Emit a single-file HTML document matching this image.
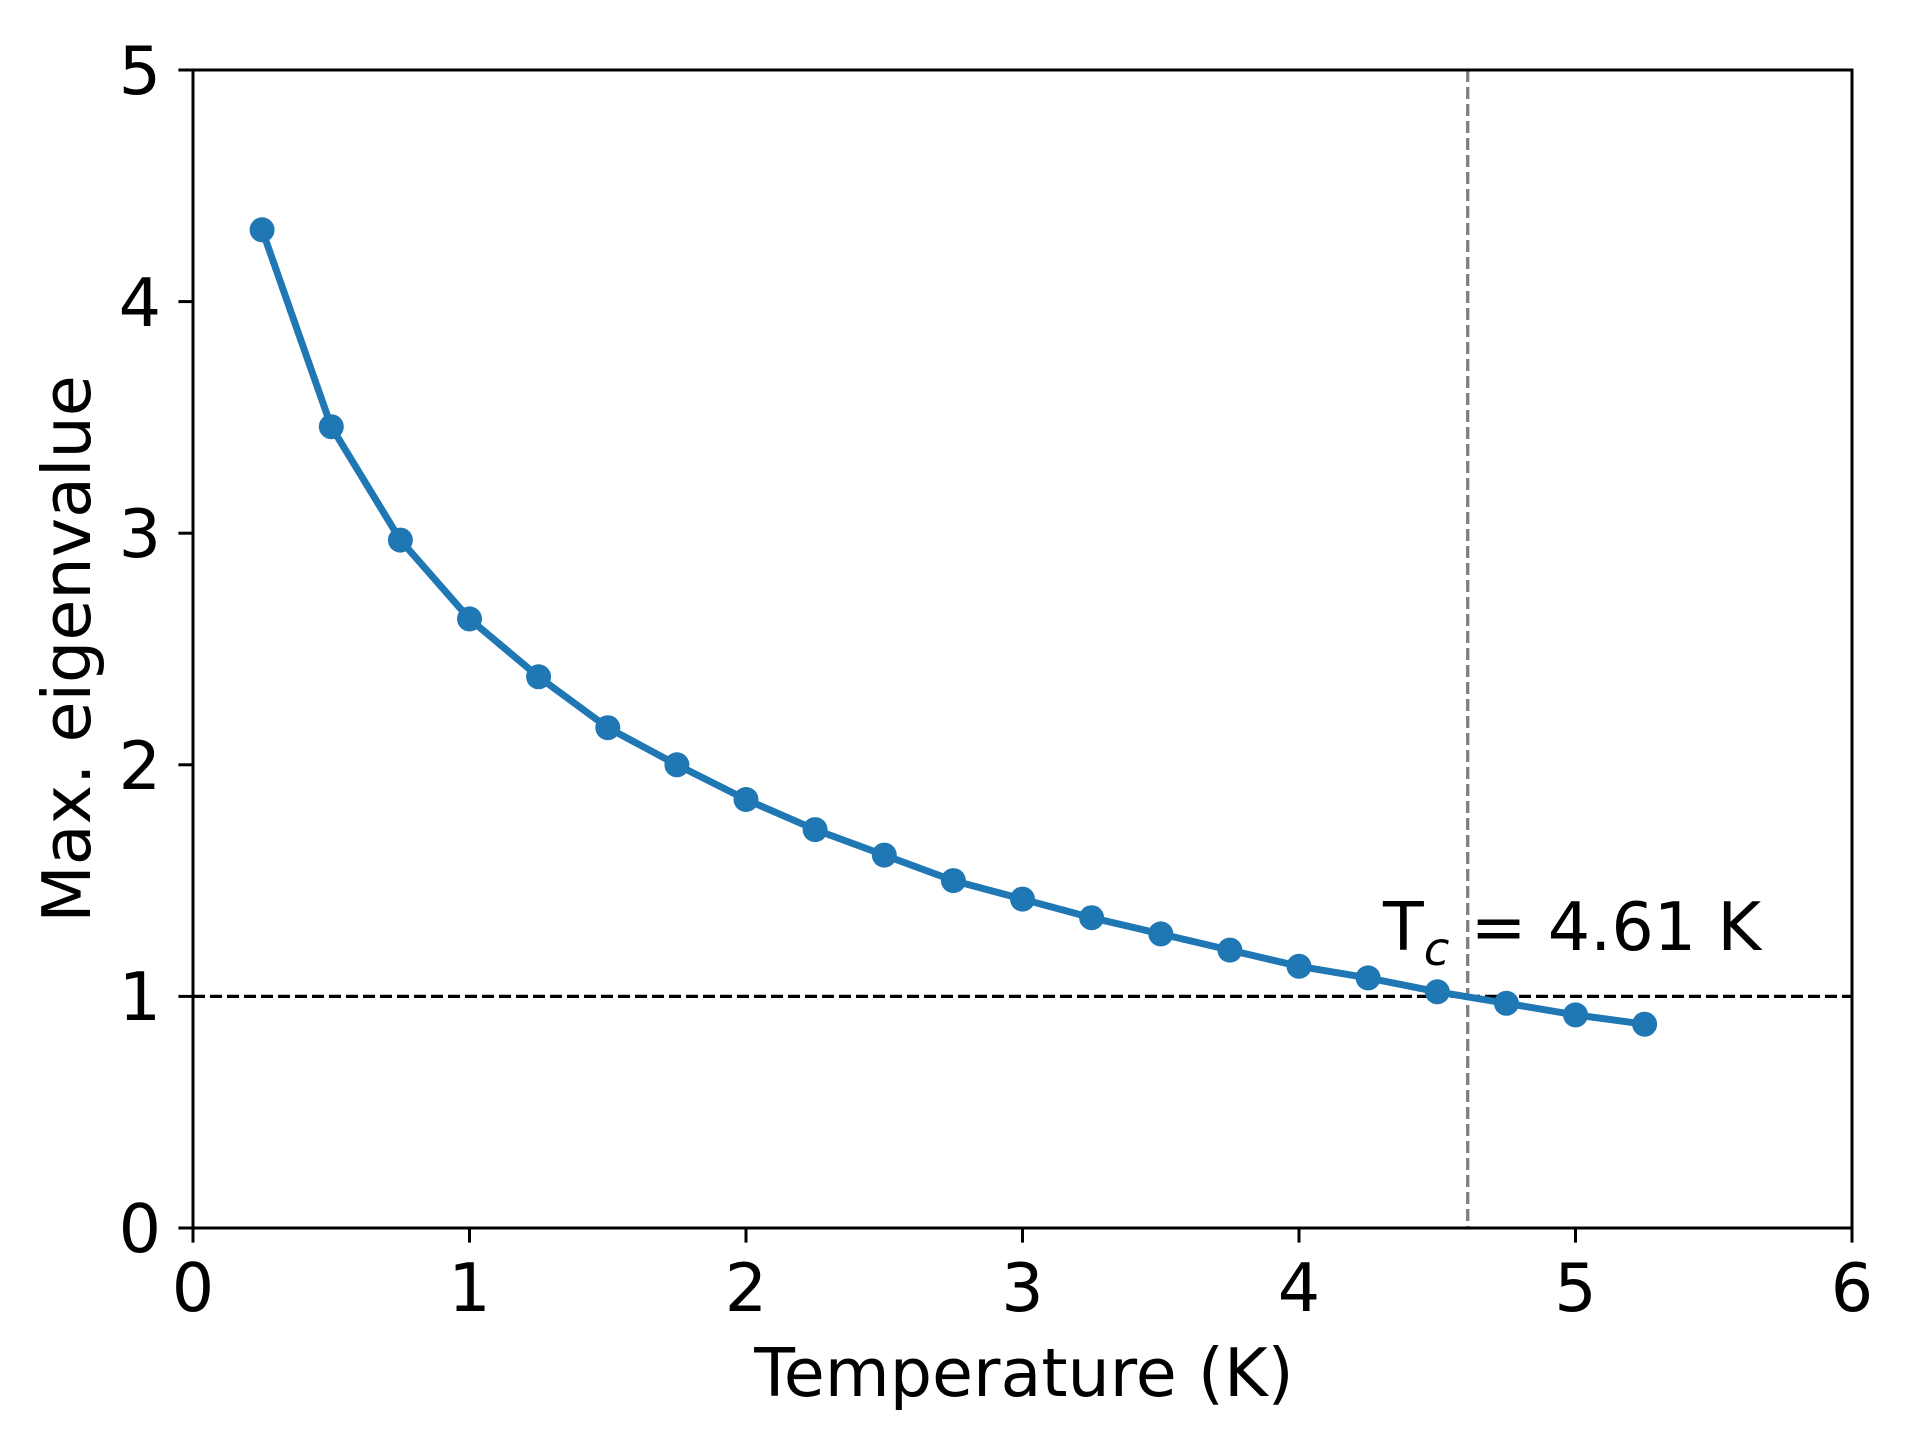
<!DOCTYPE html>
<html><head><meta charset="utf-8"><style>html,body{margin:0;padding:0;background:#fff}</style></head>
<body>
<svg width="1920" height="1440" viewBox="0 0 1920 1440" xmlns="http://www.w3.org/2000/svg" font-family="DejaVu Sans, Liberation Sans, sans-serif" font-size="66.7">
<rect width="1920" height="1440" fill="#fff"/>
<line x1="193" y1="996.4" x2="1852" y2="996.4" stroke="#000" stroke-width="3.3" stroke-dasharray="12,5"/>
<line x1="1467.7" y1="70" x2="1467.7" y2="1228" stroke="#808080" stroke-width="3.3" stroke-dasharray="12,5"/>
<polyline fill="none" stroke="#1f77b4" stroke-width="7" stroke-linejoin="round" points="262.1,229.8 331.3,426.7 400.4,540.1 469.5,618.9 538.6,676.8 607.8,727.7 676.9,764.8 746,799.5 815.1,829.6 884.3,855.1 953.4,880.6 1022.5,899.1 1091.6,917.7 1160.8,933.9 1229.9,950.1 1299,966.3 1368.1,977.9 1437.3,991.8 1506.4,1003.3 1575.5,1014.9 1644.6,1024.2"/>
<g fill="#1f77b4">
<circle cx="262.1" cy="229.8" r="12.5"/><circle cx="331.3" cy="426.7" r="12.5"/><circle cx="400.4" cy="540.1" r="12.5"/><circle cx="469.5" cy="618.9" r="12.5"/><circle cx="538.6" cy="676.8" r="12.5"/><circle cx="607.8" cy="727.7" r="12.5"/><circle cx="676.9" cy="764.8" r="12.5"/><circle cx="746" cy="799.5" r="12.5"/><circle cx="815.1" cy="829.6" r="12.5"/><circle cx="884.3" cy="855.1" r="12.5"/><circle cx="953.4" cy="880.6" r="12.5"/><circle cx="1022.5" cy="899.1" r="12.5"/><circle cx="1091.6" cy="917.7" r="12.5"/><circle cx="1160.8" cy="933.9" r="12.5"/><circle cx="1229.9" cy="950.1" r="12.5"/><circle cx="1299" cy="966.3" r="12.5"/><circle cx="1368.1" cy="977.9" r="12.5"/><circle cx="1437.3" cy="991.8" r="12.5"/><circle cx="1506.4" cy="1003.3" r="12.5"/><circle cx="1575.5" cy="1014.9" r="12.5"/><circle cx="1644.6" cy="1024.2" r="12.5"/>
</g>
<rect x="193" y="70" width="1659" height="1158" fill="none" stroke="#000" stroke-width="3"/>
<g stroke="#000" stroke-width="3">
<line x1="193" y1="1228" x2="193" y2="1242.6"/><line x1="469.5" y1="1228" x2="469.5" y2="1242.6"/><line x1="746" y1="1228" x2="746" y2="1242.6"/><line x1="1022.5" y1="1228" x2="1022.5" y2="1242.6"/><line x1="1299" y1="1228" x2="1299" y2="1242.6"/><line x1="1575.5" y1="1228" x2="1575.5" y2="1242.6"/><line x1="1852" y1="1228" x2="1852" y2="1242.6"/>
<line x1="178.4" y1="1228" x2="193" y2="1228"/><line x1="178.4" y1="996.4" x2="193" y2="996.4"/><line x1="178.4" y1="764.8" x2="193" y2="764.8"/><line x1="178.4" y1="533.2" x2="193" y2="533.2"/><line x1="178.4" y1="301.6" x2="193" y2="301.6"/><line x1="178.4" y1="70" x2="193" y2="70"/>
</g>
<g text-anchor="middle">
<text x="193" y="1311">0</text><text x="469.5" y="1311">1</text><text x="746" y="1311">2</text><text x="1022.5" y="1311">3</text><text x="1299" y="1311">4</text><text x="1575.5" y="1311">5</text><text x="1852" y="1311">6</text>
</g>
<g text-anchor="end">
<text x="161" y="1252">0</text><text x="161" y="1020">1</text><text x="161" y="789">2</text><text x="161" y="557">3</text><text x="161" y="326">4</text><text x="161" y="94">5</text>
</g>
<text x="1024" y="1396" text-anchor="middle">Temperature (K)</text>
<text transform="translate(90,649) rotate(-90)" text-anchor="middle">Max. eigenvalue</text>
<text x="1383" y="950">T<tspan font-style="italic" font-size="46.7" dy="15">c</tspan><tspan dy="-15"> = 4.61 K</tspan></text>
</svg>
</body></html>
